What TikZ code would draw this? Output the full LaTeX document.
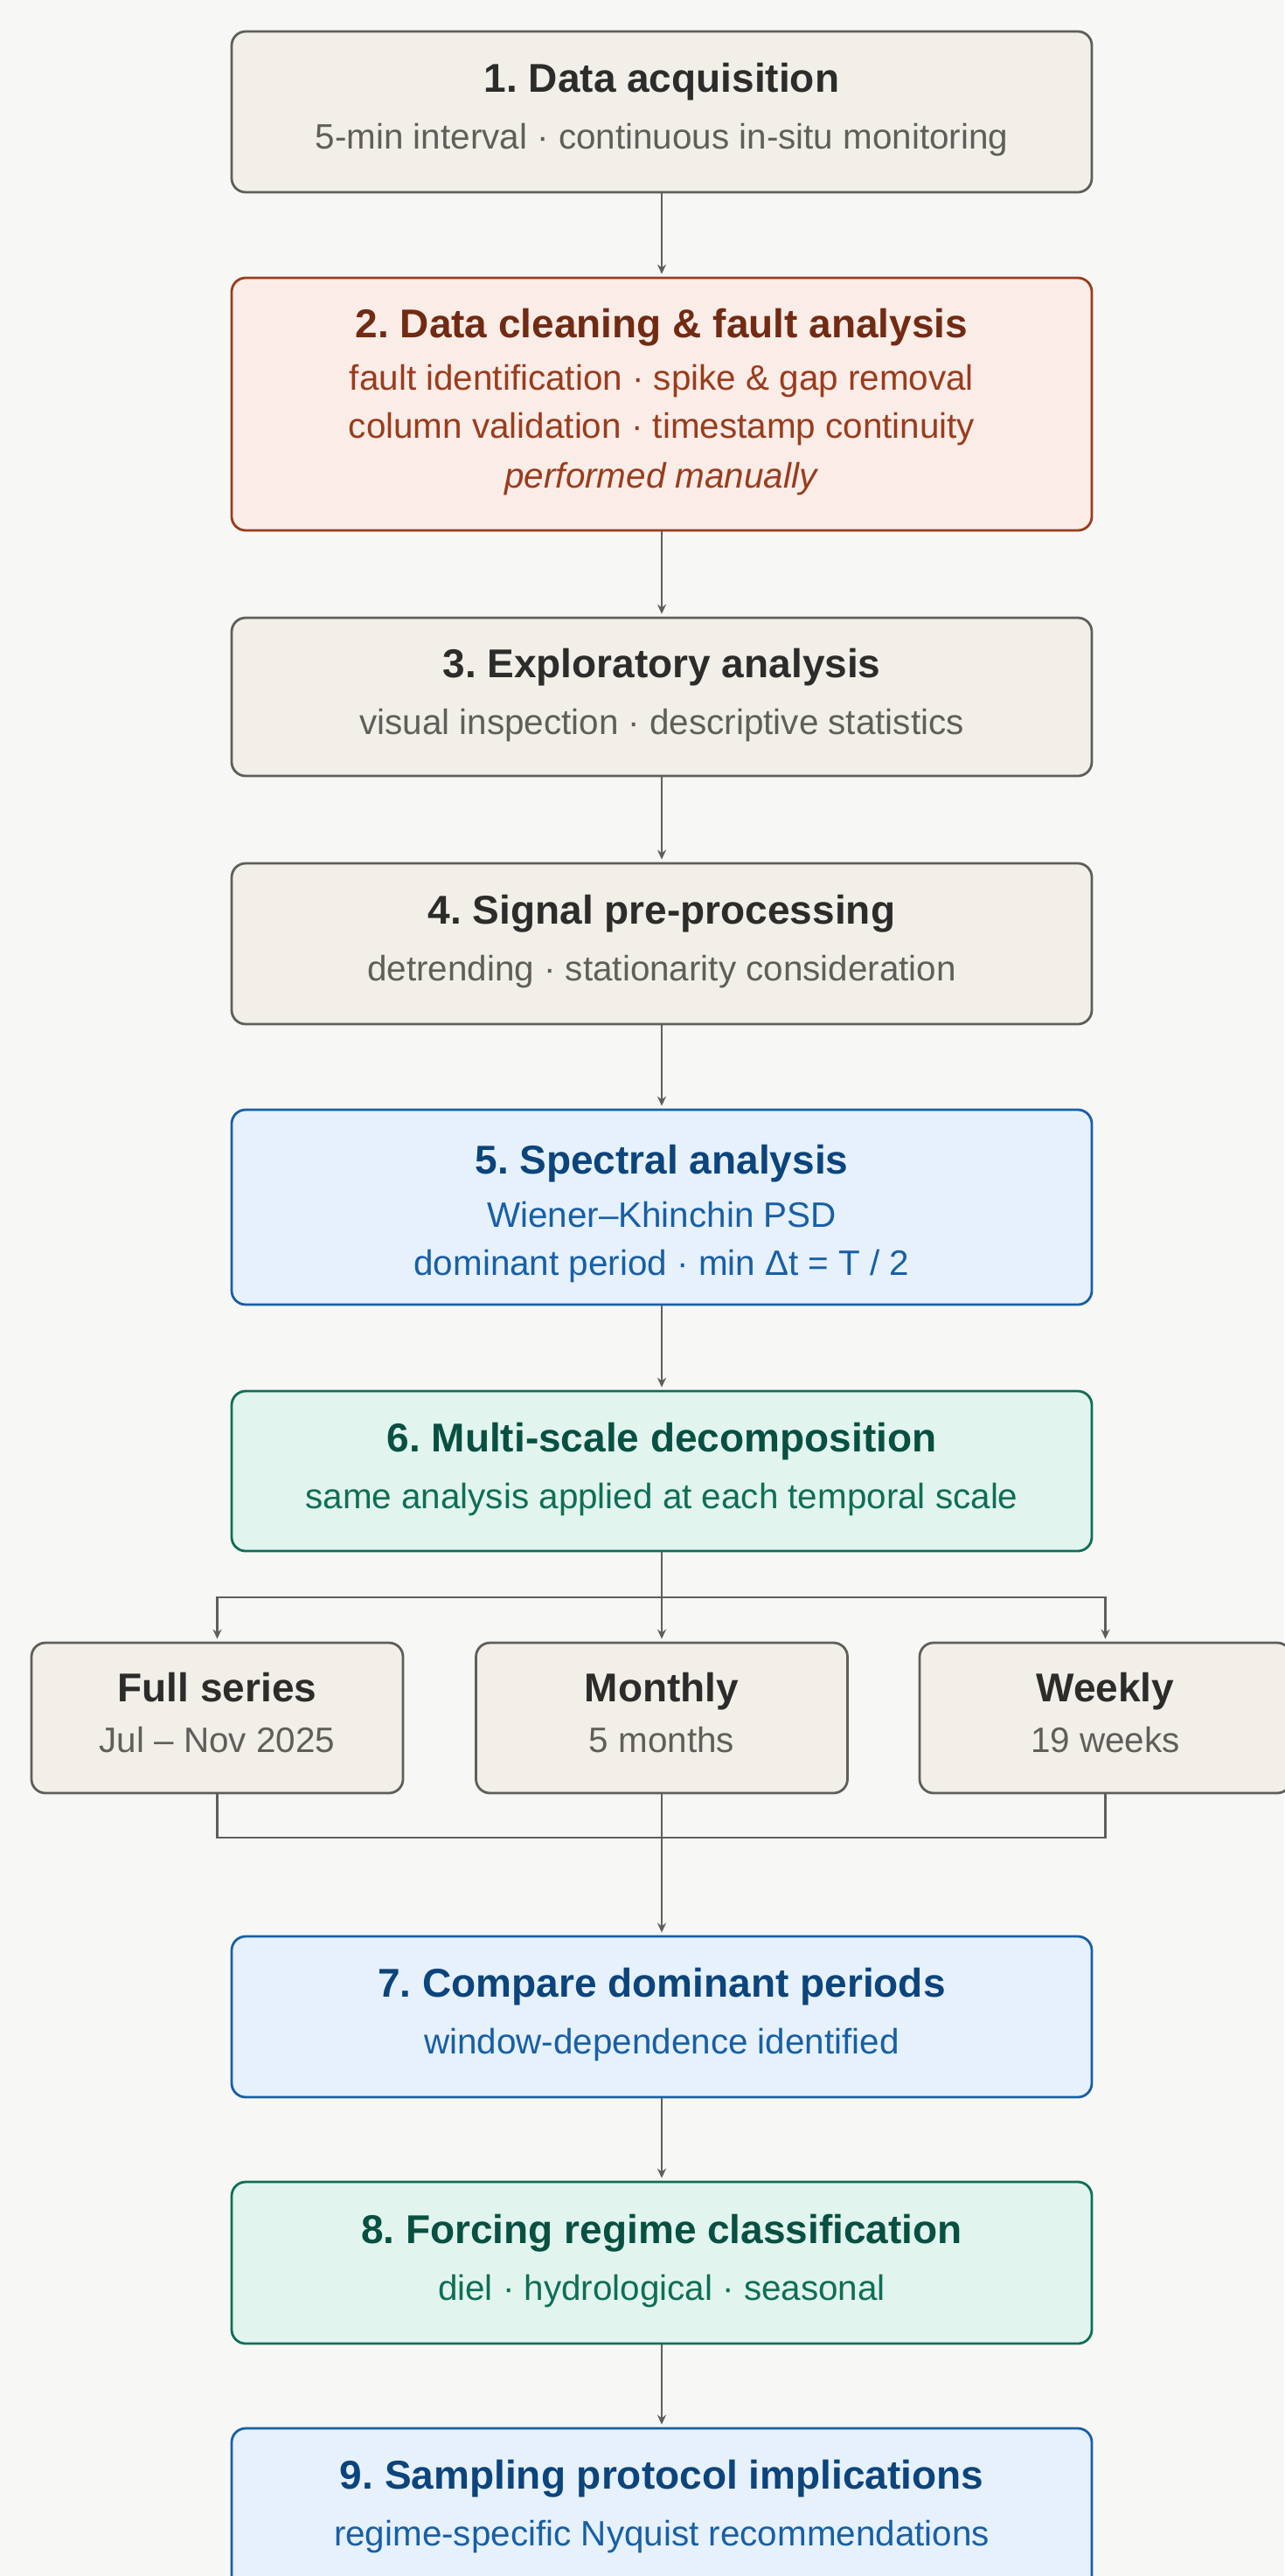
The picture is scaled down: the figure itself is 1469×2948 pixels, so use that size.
\documentclass[tikz,border=0pt]{standalone}
\usepackage{fontspec}
\setmainfont{Liberation Sans}
\usetikzlibrary{arrows.meta}
\frenchspacing

% palette
\definecolor{bgcol}{HTML}{F7F8F5}
\definecolor{nfill}{HTML}{F1EFE8}
\definecolor{nline}{HTML}{5F5E5A}
\definecolor{ntitle}{HTML}{2C2C2A}
\definecolor{nsub}{HTML}{5F5E5A}
\definecolor{rfill}{HTML}{FAECE7}
\definecolor{rline}{HTML}{993C1D}
\definecolor{rtitle}{HTML}{712B13}
\definecolor{rsub}{HTML}{993C1D}
\definecolor{bfill}{HTML}{E6F1FB}
\definecolor{bline}{HTML}{185FA5}
\definecolor{btitle}{HTML}{0C447C}
\definecolor{bsub}{HTML}{185FA5}
\definecolor{gfill}{HTML}{E1F5EE}
\definecolor{gline}{HTML}{0F6E56}
\definecolor{gtitle}{HTML}{085041}
\definecolor{gsub}{HTML}{0F6E56}
\definecolor{cline}{HTML}{5F5E5A}

% title line of a stage box (optional top strut height)
\def\ttlcol{ntitle}
\newcommand\ttl[2][17.5pt]{\rule{0pt}{#1}{\fontsize{23}{27.5}\selectfont\bfseries\color{\ttlcol}#2}}
% depth strut closing the last line
\newcommand\bstrut{\rule[-7.5pt]{0pt}{7.5pt}}

\tikzset{
  stage/.style={draw, rounded corners=8pt, line width=1.4pt, minimum width=492pt,
    align=center, inner sep=0pt, font=\fontsize{20.2}{27.5}\selectfont},
  scalebox/.style={stage, minimum width=212.5pt, minimum height=86pt},
  neutral/.style={fill=nfill, draw=nline, text=nsub, execute at begin node=\def\ttlcol{ntitle}},
  coral/.style={fill=rfill, draw=rline, text=rsub, execute at begin node=\def\ttlcol{rtitle}},
  blue/.style={fill=bfill, draw=bline, text=bsub, execute at begin node=\def\ttlcol{btitle}},
  teal/.style={fill=gfill, draw=gline, text=gsub, execute at begin node=\def\ttlcol{gtitle}},
  conn/.style={draw=cline, line width=1.4pt},
  arr/.style={conn, -{Stealth[length=5.5pt,width=5pt]}, shorten >=1.5pt},
}

\begin{document}
\begin{tikzpicture}[x=0.5pt, y=-0.5pt]
  \useasboundingbox (0,0) rectangle (1469,2948);
  \fill[bgcol] (0,0) rectangle (1469,2948);

  % main pipeline
  \node[stage, neutral, minimum height=92pt] (s1) at (757,128)
    {\ttl{1. Data acquisition}\\[5pt]
     5-min interval · continuous in-situ monitoring\bstrut};
  \node[stage, coral, minimum height=144.5pt] (s2) at (757,462.5)
    {\ttl{2. Data cleaning \& fault analysis}\\[2.5pt]
     fault identification · spike \& gap removal\\
     column validation · timestamp continuity\\[1pt]
     \textit{performed manually}\bstrut};
  \node[stage, neutral, minimum height=90.5pt] (s3) at (757,797.5)
    {\ttl{3. Exploratory analysis}\\[5pt]
     visual inspection · descriptive statistics\bstrut};
  \node[stage, neutral, minimum height=92pt] (s4) at (757,1080)
    {\ttl{4. Signal pre-processing}\\[5pt]
     detrending · stationarity consideration\bstrut};
  \node[stage, blue, minimum height=111.5pt] (s5) at (757,1381.5)
    {\ttl[27.5pt]{5. Spectral analysis}\\[3pt]
     Wiener–Khinchin PSD\\
     dominant period · min Δt = T / 2\bstrut};
  \node[stage, teal, minimum height=91.5pt] (s6) at (757,1683.5)
    {\ttl{6. Multi-scale decomposition}\\[5pt]
     same analysis applied at each temporal scale\bstrut};

  % temporal scales
  \node[scalebox, neutral] (full) at (248.5,1966)
    {\ttl{Full series}\\[1.5pt] Jul – Nov 2025\bstrut};
  \node[scalebox, neutral] (month) at (757,1966)
    {\ttl{Monthly}\\[1.5pt] 5 months\bstrut};
  \node[scalebox, neutral] (week) at (1264.5,1966)
    {\ttl{Weekly}\\[1.5pt] 19 weeks\bstrut};

  \node[stage, blue, minimum height=92pt] (s7) at (757,2308)
    {\ttl{7. Compare dominant periods}\\[5pt]
     window-dependence identified\bstrut};
  \node[stage, teal, minimum height=92.5pt] (s8) at (757,2589.5)
    {\ttl{8. Forcing regime classification}\\[5pt]
     diel · hydrological · seasonal\bstrut};
  \node[stage, blue, minimum height=92pt] (s9) at (757,2871)
    {\ttl{9. Sampling protocol implications}\\[5pt]
     regime-specific Nyquist recommendations\bstrut};

  % connectors
  \draw[arr] (s1) -- (s2);
  \draw[arr] (s2) -- (s3);
  \draw[arr] (s3) -- (s4);
  \draw[arr] (s4) -- (s5);
  \draw[arr] (s5) -- (s6);

  \coordinate (split) at (757,1828);
  \coordinate (join) at (757,2103);
  \draw[conn] (s6.south) -- (split);
  \draw[arr] (split) -| (full.north);
  \draw[arr] (split) -- (month.north);
  \draw[arr] (split) -| (week.north);

  \draw[conn] (full.south) |- (join);
  \draw[conn] (week.south) |- (join);
  \draw[conn] (month.south) -- (join);
  \draw[arr] (join) -- (s7.north);

  \draw[arr] (s7) -- (s8);
  \draw[arr] (s8) -- (s9);
\end{tikzpicture}
\end{document}
